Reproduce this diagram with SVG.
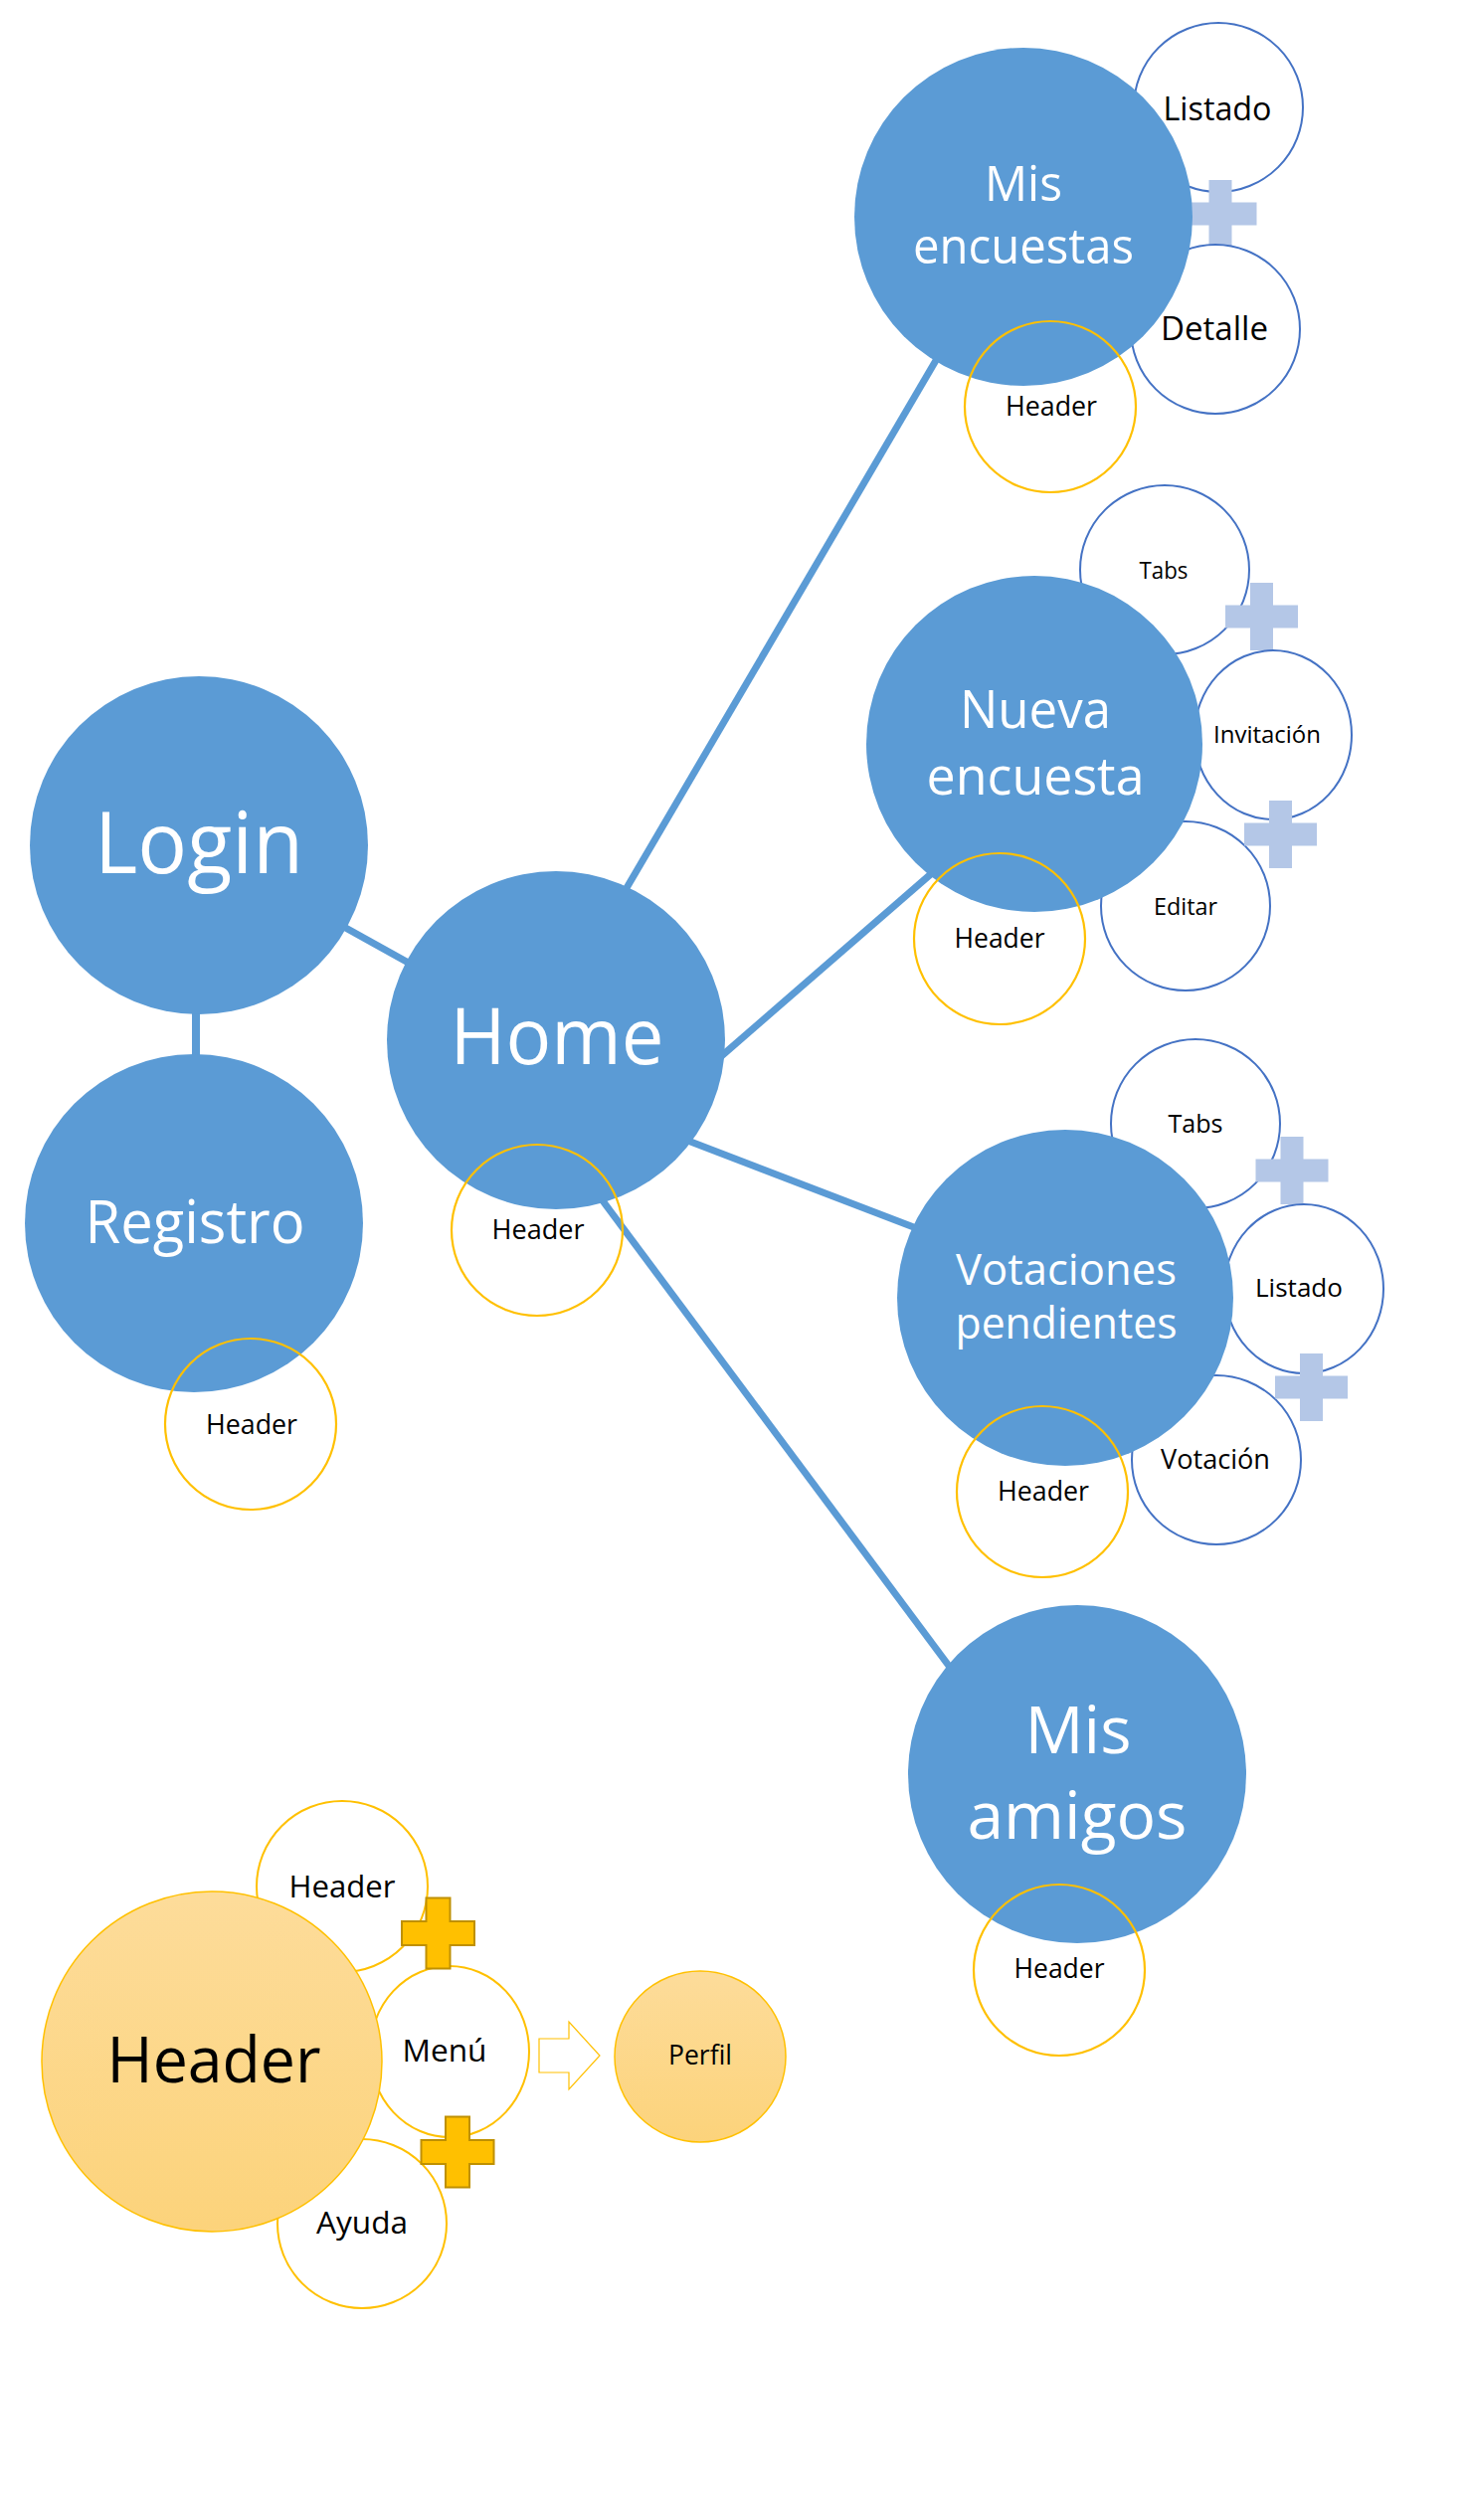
<svg xmlns="http://www.w3.org/2000/svg" xmlns:xlink="http://www.w3.org/1999/xlink" width="1478" height="2534" viewBox="0 0 1478 2534">
<style>
text{font-family:"Open Sans","Noto Sans","Liberation Sans",sans-serif;text-anchor:middle}
.big{fill:#5B9BD5}
.sub{fill:#FFFFFF;stroke:#4472C4;stroke-width:2}
.hdr{fill:none;stroke:#FFC000;stroke-width:2.2}
.ysub{fill:#FFFFFF;stroke:#FFC000;stroke-width:2}
.gold{fill:url(#goldGrad);stroke:#FFC000;stroke-width:1.5}
.wt{fill:#FFFFFF}
.bt{fill:#000000}
.conn{stroke:#5B9BD5;stroke-width:7;fill:none}
</style>
<defs>
<path id="plusLight" d="M-11.5,-34H11.5V-11.5H36.5V11.5H11.5V34H-11.5V11.5H-36.5V-11.5H-11.5Z" fill="#B4C7E7"/>
<path id="plusGold" d="M-12,-35.5H12V-12H36.5V12H12V35.5H-12V12H-36.5V-12H-12Z" fill="#FFC000" stroke="#BF9000" stroke-width="2"/>
<linearGradient id="goldGrad" x1="0" y1="0" x2="0" y2="1">
<stop offset="0" stop-color="#FDDC9A"/>
<stop offset="1" stop-color="#FCD37B"/>
</linearGradient>
</defs>
<rect width="1478" height="2534" fill="#FFFFFF"/>

<g id="connectors">
<line class="conn" x1="220" y1="862" x2="540" y2="1040"/>
<line class="conn" x1="197" y1="1000" x2="197" y2="1080" style="stroke-width:8"/>
<line class="conn" x1="610" y1="927" x2="960" y2="330"/>
<line class="conn" x1="700" y1="1084" x2="960" y2="858"/>
<line class="conn" x1="650" y1="1131" x2="950" y2="1246"/>
<line class="conn" x1="590" y1="1186" x2="980" y2="1710"/>
</g>

<g id="node-login">
<circle class="big" cx="200" cy="850" r="170"/>
<text class="wt" x="200" y="878" font-size="86" textLength="210" lengthAdjust="spacingAndGlyphs">Login</text>
</g>

<g id="node-registro">
<circle class="big" cx="195" cy="1230" r="170"/>
<circle class="hdr" cx="252" cy="1432" r="86"/>
<text class="wt" x="196" y="1250" font-size="60" textLength="221" lengthAdjust="spacingAndGlyphs">Registro</text>
<text class="bt" x="253" y="1442" font-size="27" textLength="92" lengthAdjust="spacingAndGlyphs">Header</text>
</g>

<g id="node-home">
<circle class="big" cx="559" cy="1046" r="170"/>
<circle class="hdr" cx="540" cy="1237" r="86"/>
<text class="wt" x="560" y="1070" font-size="78" textLength="215" lengthAdjust="spacingAndGlyphs">Home</text>
<text class="bt" x="541" y="1246" font-size="27" textLength="93" lengthAdjust="spacingAndGlyphs">Header</text>
</g>

<g id="node-mis-encuestas">
<circle class="sub" cx="1225" cy="108" r="85"/>
<use xlink:href="#plusLight" href="#plusLight" x="1227" y="215"/>
<circle class="sub" cx="1222" cy="331" r="85"/>
<circle class="big" cx="1029" cy="218" r="170"/>
<circle class="hdr" cx="1056" cy="409" r="86"/>
<text class="wt" x="1029" y="202" font-size="49" textLength="78" lengthAdjust="spacingAndGlyphs">Mis</text>
<text class="wt" x="1029" y="265" font-size="49" textLength="222" lengthAdjust="spacingAndGlyphs">encuestas</text>
<text class="bt" x="1224" y="121" font-size="33" textLength="109" lengthAdjust="spacingAndGlyphs">Listado</text>
<text class="bt" x="1221" y="342" font-size="33" textLength="108" lengthAdjust="spacingAndGlyphs">Detalle</text>
<text class="bt" x="1057" y="418" font-size="27" textLength="92" lengthAdjust="spacingAndGlyphs">Header</text>
</g>

<g id="node-nueva-encuesta">
<circle class="sub" cx="1171" cy="573" r="85"/>
<use xlink:href="#plusLight" href="#plusLight" x="1268.5" y="620"/>
<ellipse class="sub" cx="1280" cy="739" rx="79" ry="85"/>
<circle class="sub" cx="1192" cy="911" r="85"/>
<use xlink:href="#plusLight" href="#plusLight" x="1287.5" y="839"/>
<circle class="big" cx="1040" cy="748" r="169"/>
<circle class="hdr" cx="1005" cy="944" r="86"/>
<text class="wt" x="1041" y="732" font-size="53" textLength="152" lengthAdjust="spacingAndGlyphs">Nueva</text>
<text class="wt" x="1041" y="799" font-size="53" textLength="219" lengthAdjust="spacingAndGlyphs">encuesta</text>
<text class="bt" x="1170" y="582" font-size="24" textLength="49" lengthAdjust="spacingAndGlyphs">Tabs</text>
<text class="bt" x="1274" y="747" font-size="24" textLength="108" lengthAdjust="spacingAndGlyphs">Invitación</text>
<text class="bt" x="1192" y="920" font-size="24" textLength="64" lengthAdjust="spacingAndGlyphs">Editar</text>
<text class="bt" x="1005" y="953" font-size="27" textLength="91" lengthAdjust="spacingAndGlyphs">Header</text>
</g>

<g id="node-votaciones">
<circle class="sub" cx="1202" cy="1130" r="85"/>
<use xlink:href="#plusLight" href="#plusLight" x="1299" y="1177"/>
<ellipse class="sub" cx="1311" cy="1296" rx="80" ry="85"/>
<circle class="sub" cx="1223" cy="1468" r="85"/>
<use xlink:href="#plusLight" href="#plusLight" x="1318.5" y="1395"/>
<circle class="big" cx="1071" cy="1305" r="169"/>
<circle class="hdr" cx="1048" cy="1500" r="86"/>
<text class="wt" x="1072" y="1292" font-size="44" textLength="222" lengthAdjust="spacingAndGlyphs">Votaciones</text>
<text class="wt" x="1072" y="1346" font-size="44" textLength="223" lengthAdjust="spacingAndGlyphs">pendientes</text>
<text class="bt" x="1202" y="1139" font-size="25" textLength="55" lengthAdjust="spacingAndGlyphs">Tabs</text>
<text class="bt" x="1306" y="1304" font-size="26" textLength="88" lengthAdjust="spacingAndGlyphs">Listado</text>
<text class="bt" x="1222" y="1477" font-size="27" textLength="110" lengthAdjust="spacingAndGlyphs">Votación</text>
<text class="bt" x="1049" y="1509" font-size="27" textLength="92" lengthAdjust="spacingAndGlyphs">Header</text>
</g>

<g id="node-mis-amigos">
<circle class="big" cx="1083" cy="1784" r="170"/>
<circle class="hdr" cx="1065" cy="1981" r="86"/>
<text class="wt" x="1084" y="1763" font-size="66" textLength="107" lengthAdjust="spacingAndGlyphs">Mis</text>
<text class="wt" x="1083" y="1849" font-size="66" textLength="221" lengthAdjust="spacingAndGlyphs">amigos</text>
<text class="bt" x="1065" y="1989" font-size="27" textLength="91" lengthAdjust="spacingAndGlyphs">Header</text>
</g>

<g id="node-header">
<circle class="ysub" cx="344" cy="1897" r="86"/>
<ellipse class="ysub" cx="452" cy="2063" rx="80" ry="86"/>
<circle class="ysub" cx="364" cy="2236" r="85"/>
<use xlink:href="#plusGold" href="#plusGold" x="440.5" y="1944"/>
<use xlink:href="#plusGold" href="#plusGold" x="460" y="2164"/>
<circle class="gold" cx="213" cy="2073" r="171"/>
<text class="bt" x="215" y="2094" font-size="64" textLength="215" lengthAdjust="spacingAndGlyphs">Header</text>
<text class="bt" x="344" y="1908" font-size="31" textLength="107" lengthAdjust="spacingAndGlyphs">Header</text>
<text class="bt" x="447" y="2073" font-size="31" textLength="85" lengthAdjust="spacingAndGlyphs">Menú</text>
<text class="bt" x="364" y="2246" font-size="31" textLength="92" lengthAdjust="spacingAndGlyphs">Ayuda</text>
</g>

<g id="arrow-menu-perfil">
<path d="M542,2050H572V2033L603,2067L572,2101V2084H542Z" fill="#FFFFFF" stroke="#FFC000" stroke-width="1.2"/>
</g>

<g id="node-perfil">
<circle class="gold" cx="704" cy="2068" r="86"/>
<text class="bt" x="704" y="2076" font-size="27" textLength="64" lengthAdjust="spacingAndGlyphs">Perfil</text>
</g>
</svg>
